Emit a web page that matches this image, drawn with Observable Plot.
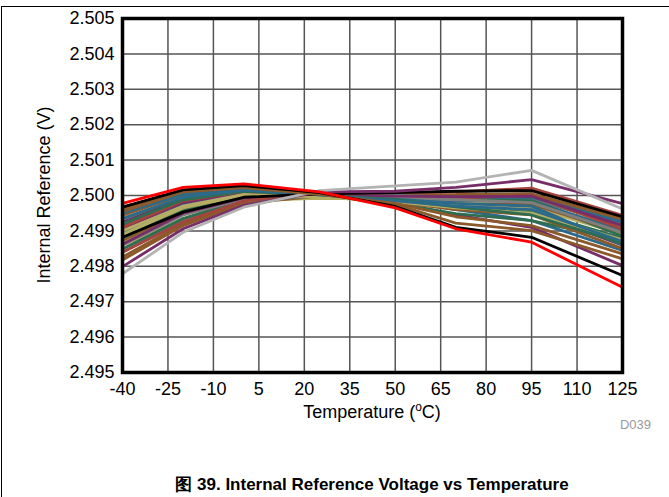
<!DOCTYPE html>
<html>
<head>
<meta charset="utf-8">
<script src="https://cdn.jsdelivr.net/npm/d3@7"></script>
<script src="https://cdn.jsdelivr.net/npm/@observablehq/plot@0.6"></script>
<style>
  html, body { margin: 0; padding: 0; background: #fff; }
  #page { position: relative; width: 669px; height: 497px; overflow: hidden; font-family: "Liberation Sans", Arial, sans-serif; }
  #frame { position: absolute; left: 1px; top: 6px; width: 700px; height: 600px; border-left: 1px solid #000; border-top: 1px solid #000; }
  #chart { position: absolute; left: 0; top: 0; }
  #caption { position: absolute; left: 0; width: 744px; top: 475px; line-height: 20px; text-align: center; font-weight: bold; font-size: 17px; white-space: nowrap; }
</style>
</head>
<body>
<div id="page">
  <div id="frame"></div>
  <div id="chart"></div>
  <div id="caption">图 39. Internal Reference Voltage vs Temperature</div>
</div>
<script>
const temps = [-40, -20, 0, 25, 50, 70, 95, 125];
const xTicks = [-40, -25, -10, 5, 20, 35, 50, 65, 80, 95, 110, 125];
const yTicks = [2.495, 2.496, 2.497, 2.498, 2.499, 2.500, 2.501, 2.502, 2.503, 2.504, 2.505];

// one curve per device (volts at each temperature)
const curveColors = [
  "#2b6a8a", "#8c5a2a", "#772d6a", "#2e6e50", "#b4ad64", "#b4ad64", "#8c5a2a", "#8c5a2a",
  "#6e6e6e", "#2b6a8a", "#2b6a8a", "#772d6a", "#2e6e50", "#8c5a2a", "#8c5a2a", "#a4443c",
  "#2e6e50", "#b4ad64", "#7f7f7f", "#2b6a8a", "#772d6a", "#8c5a2a", "#b4ad64", "#2e6e50",
  "#2b6a8a", "#a4443c", "#000000", "#772d6a", "#b3b3b3", "#8c5a2a", "#000000", "#ff0000"
];
const curves = [
  [2.49958, 2.50005, 2.50020, 2.50002, 2.49985, 2.49960, 2.49929, 2.49845],
  [2.49826, 2.49920, 2.49980, 2.50000, 2.50002, 2.50003, 2.50005, 2.49935],
  [2.49925, 2.49990, 2.50015, 2.50003, 2.49980, 2.49945, 2.49910, 2.49802],
  [2.49934, 2.49995, 2.50016, 2.50001, 2.49978, 2.49949, 2.49929, 2.49873],
  [2.49859, 2.49935, 2.49985, 2.49992, 2.49990, 2.49985, 2.49975, 2.49910],
  [2.49870, 2.49945, 2.49990, 2.49993, 2.49988, 2.49980, 2.49967, 2.49890],
  [2.49818, 2.49915, 2.49978, 2.49998, 2.49998, 2.49995, 2.49990, 2.49915],
  [2.49873, 2.49955, 2.49998, 2.50003, 2.50000, 2.49998, 2.50000, 2.49930],
  [2.49840, 2.49930, 2.49985, 2.50000, 2.50000, 2.49995, 2.49990, 2.49920],
  [2.49915, 2.49985, 2.50010, 2.50002, 2.49995, 2.49990, 2.49995, 2.49925],
  [2.49896, 2.49975, 2.50005, 2.50001, 2.49992, 2.49985, 2.49985, 2.49900],
  [2.49906, 2.49980, 2.50008, 2.50000, 2.49985, 2.49970, 2.49953, 2.49860],
  [2.49849, 2.49935, 2.49988, 2.49998, 2.49995, 2.49990, 2.49985, 2.49885],
  [2.49944, 2.50002, 2.50018, 2.50002, 2.49988, 2.49975, 2.49975, 2.49895],
  [2.49960, 2.50008, 2.50022, 2.50003, 2.49982, 2.49960, 2.49945, 2.49850],
  [2.49910, 2.49985, 2.50012, 2.50004, 2.49995, 2.49993, 2.50000, 2.49905],
  [2.49880, 2.49960, 2.49998, 2.50000, 2.49990, 2.49975, 2.49955, 2.49880],
  [2.49890, 2.49965, 2.50000, 2.49995, 2.49985, 2.49975, 2.49960, 2.49870],
  [2.49860, 2.49945, 2.49990, 2.49998, 2.49993, 2.49988, 2.49980, 2.49895],
  [2.49950, 2.50003, 2.50020, 2.50003, 2.49990, 2.49978, 2.49970, 2.49860],
  [2.49862, 2.49950, 2.49993, 2.50001, 2.49998, 2.49997, 2.49998, 2.49915],
  [2.49967, 2.50012, 2.50024, 2.50004, 2.49975, 2.49922, 2.49901, 2.49821],
  [2.49900, 2.49970, 2.50003, 2.49996, 2.49982, 2.49965, 2.49950, 2.49875],
  [2.49920, 2.49988, 2.50012, 2.50002, 2.49988, 2.49968, 2.49945, 2.49865],
  [2.49935, 2.49995, 2.50015, 2.50002, 2.49985, 2.49970, 2.49960, 2.49870],
  [2.49840, 2.49925, 2.49985, 2.50006, 2.50008, 2.50010, 2.50021, 2.49944],
  [2.49882, 2.49953, 2.49995, 2.50005, 2.50008, 2.50012, 2.50014, 2.49940],
  [2.49799, 2.49906, 2.49972, 2.50010, 2.50012, 2.50023, 2.50045, 2.49977],
  [2.49779, 2.49896, 2.49967, 2.50014, 2.50027, 2.50038, 2.50071, 2.49962],
  [2.49955, 2.50010, 2.50022, 2.50003, 2.49978, 2.49940, 2.49915, 2.49835],
  [2.49967, 2.50016, 2.50028, 2.50008, 2.49969, 2.49910, 2.49882, 2.49774],
  [2.49978, 2.50023, 2.50033, 2.50010, 2.49965, 2.49906, 2.49868, 2.49741]
];

const rows = [];
curves.forEach((vals, i) => vals.forEach((v, j) => rows.push({unit: i, t: temps[j], v})));

const W = 669, H = 440;
const chart = Plot.plot({
  width: W, height: H,
  marginLeft: 122, marginRight: 47, marginTop: 18, marginBottom: 68,
  style: {fontFamily: '"Liberation Sans", Arial, sans-serif', fontSize: "18px", color: "#000", background: "transparent"},
  x: {domain: [-40, 125], ticks: xTicks, label: null},
  y: {domain: [2.495, 2.505], ticks: yTicks, label: null},
  marks: [
    Plot.gridX(xTicks, {stroke: "#555", strokeOpacity: 1, strokeWidth: 1.5}),
    Plot.gridY(yTicks, {stroke: "#555", strokeOpacity: 1, strokeWidth: 1.5}),
    Plot.line(rows, {x: "t", y: "v", z: "unit", stroke: d => curveColors[d.unit], strokeWidth: 2.8, strokeLinejoin: "miter", strokeLinecap: "butt"}),
    Plot.frame({stroke: "#000", strokeWidth: 3.5}),
    Plot.axisX(xTicks, {tickSize: 0, tickPadding: 10, fontSize: 18, tickFormat: d => String(d)}),
    Plot.axisY(yTicks, {tickSize: 0, tickPadding: 8, fontSize: 18, tickFormat: d3.format(".3f")})
  ]
});
document.getElementById("chart").appendChild(chart);

const svg = d3.select(chart);
const xt = svg.append("text").attr("x", 372).attr("y", 418).attr("text-anchor", "middle")
  .attr("font-size", 18).attr("fill", "#000");
xt.append("tspan").text("Temperature (");
xt.append("tspan").attr("font-size", 12).attr("dy", -7).text("o");
xt.append("tspan").attr("dy", 7).text("C)");
svg.append("text").attr("transform", "translate(50,195) rotate(-90)").attr("text-anchor", "middle")
  .attr("font-size", 18).attr("fill", "#000").text("Internal Reference (V)");
svg.append("text").attr("x", 651).attr("y", 429).attr("text-anchor", "end")
  .attr("font-size", 13).attr("fill", "#999").text("D039");
</script>
</body>
</html>
